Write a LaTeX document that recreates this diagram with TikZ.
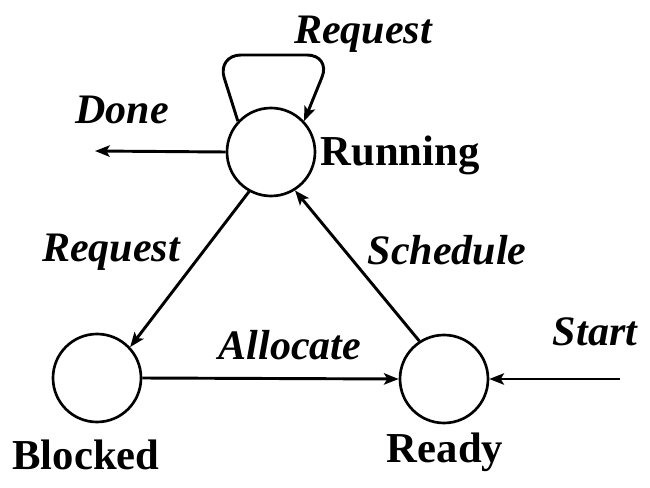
\documentclass[tikz,border=0pt]{standalone}
\usepackage{fontspec}
\setmainfont{Liberation Serif}
\usetikzlibrary{arrows.meta}
\begin{document}
\begin{tikzpicture}[x=0.75pt,y=-0.75pt,
  state/.style={circle,draw=black,fill=white,line width=2pt,minimum size=66pt,inner sep=0pt},
  arr/.style={line width=2.2pt,-{Stealth[length=11pt,width=8.5pt,inset=2.5pt]}},
  lbl/.style={font=\fontsize{31.5}{36}\selectfont\bfseries\itshape,inner sep=0pt},
  nm/.style={font=\fontsize{32}{36}\selectfont\bfseries,inner sep=0pt}]
\useasboundingbox[fill=white] (0,0) rectangle (650,488);
\node[state] (run) at (271,152) {};
\node[state] (blk) at (97,378) {};
\node[state] (rdy) at (444,379) {};
\coordinate (doneend) at (95,151);
\coordinate (startbeg) at (620,379);
\coordinate (lpA) at (217,55);
\coordinate (lpB) at (331,55);
\draw[arr,rounded corners=18pt] (run.137) -- (lpA) -- (lpB) -- (run.43);
\draw[arr] (run.west) -- (doneend);
\draw[arr] (startbeg) -- (rdy.east);
\draw[arr] (blk.east) -- (rdy.west);
\draw[arr] (run.241) -- (blk.43);
\draw[arr] (rdy.123) -- (run.302);
\node[lbl] (lreq) at (363,34) {Request};
\node[lbl] (ldone) at (122,110) {Done};
\node[nm] (nrun) at (400,155) {Running};
\node[lbl] (lreq2) at (111,252) {Request};
\node[lbl] (lsch) at (447,250) {Schedule};
\node[lbl] (lall) at (290,345) {Allocate};
\node[lbl] (lsta) at (595,332) {Start};
\node[nm] (nblk) at (86,455) {Blocked};
\node[nm] (nrdy) at (445,452) {Ready};
\end{tikzpicture}
\end{document}
